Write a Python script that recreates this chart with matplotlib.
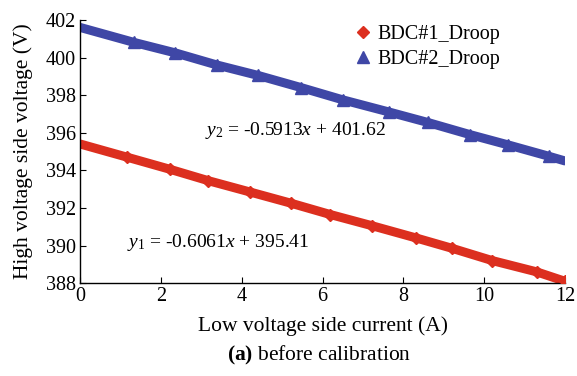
import matplotlib
matplotlib.use("Agg")
import matplotlib.pyplot as plt

plt.rcParams['font.family'] = ['Liberation Serif', 'DejaVu Serif']
plt.rcParams['mathtext.fontset'] = 'custom'
plt.rcParams['mathtext.rm'] = 'Liberation Serif'
plt.rcParams['mathtext.it'] = 'Liberation Serif:italic'
plt.rcParams['mathtext.bf'] = 'Liberation Serif:bold'

x1 = [0, 1.16, 2.23, 3.17, 4.2, 5.22, 6.19, 7.23, 8.32, 9.21, 10.2, 11.3, 12]
y1 = [395.4, 394.7, 394.05, 393.45, 392.85, 392.25, 391.65, 391.05, 390.4, 389.85, 389.2, 388.6, 388.1]
x2 = [0, 1.34, 2.35, 3.39, 4.4, 5.47, 6.5, 7.65, 8.6, 9.65, 10.6, 11.6, 12]
y2 = [401.6, 400.8, 400.25, 399.6, 399.05, 398.4, 397.75, 397.1, 396.55, 395.9, 395.35, 394.75, 394.5]
labels = ['BDC#1_Droop', 'BDC#2_Droop']
xticks = [0, 2, 4, 6, 8, 10, 12]
yticks = [388, 390, 392, 394, 396, 398, 400, 402]

red = '#dc2f1f'
blue = '#3f47a6'

fig = plt.figure(figsize=(5.77, 3.76), dpi=100)
ax = fig.add_axes([0.139, 0.247, 0.840, 0.700])

ax.plot(x1, y1, color=red, lw=6.5, solid_capstyle='round', zorder=2)
ax.plot(x1[1:], y1[1:], ls='none', marker='D', ms=6.5, color=red, zorder=3)
ax.plot(x2, y2, color=blue, lw=6.5, solid_capstyle='round', zorder=2)
ax.plot(x2[1:-1], y2[1:-1], ls='none', marker='^', ms=8.5, color=blue, zorder=3)

h1, = ax.plot([], [], ls='none', marker='D', ms=6, color=red)
h2, = ax.plot([], [], ls='none', marker='^', ms=8, color=blue)
ax.legend([h1, h2], labels, loc='upper left', bbox_to_anchor=(0.555, 1.01), frameon=False,
          prop={'family': 'Liberation Serif', 'size': 14.5},
          handlelength=0.6, handletextpad=0.4, labelspacing=0.25,
          borderaxespad=0.0)

ax.text(0.258, 0.563, r'$y_2$ = -0.5913$x$ + 401.62', transform=ax.transAxes, fontsize=14)
ax.text(0.097, 0.137, r'$y_1$ = -0.6061$x$ + 395.41', transform=ax.transAxes, fontsize=14)

ax.set_xlim(0, 12)
ax.set_ylim(388, 402)
ax.set_xticks(xticks)
ax.set_yticks(yticks)
for s in ['top', 'right']:
    ax.spines[s].set_visible(False)
for s in ['left', 'bottom']:
    ax.spines[s].set_linewidth(1.0)
ax.tick_params(direction='in', length=4, labelsize=14.5, pad=3)
ax.set_xlabel('Low voltage side current (A)', fontsize=15.5, labelpad=7)
ax.set_ylabel('High voltage side voltage (V)', fontsize=15.5, labelpad=9)

fig.text(0.553, 0.04, r'$\mathbf{(a)}$ before calibration', ha='center', fontsize=15.5)

fig.savefig('out.png', dpi=100)
